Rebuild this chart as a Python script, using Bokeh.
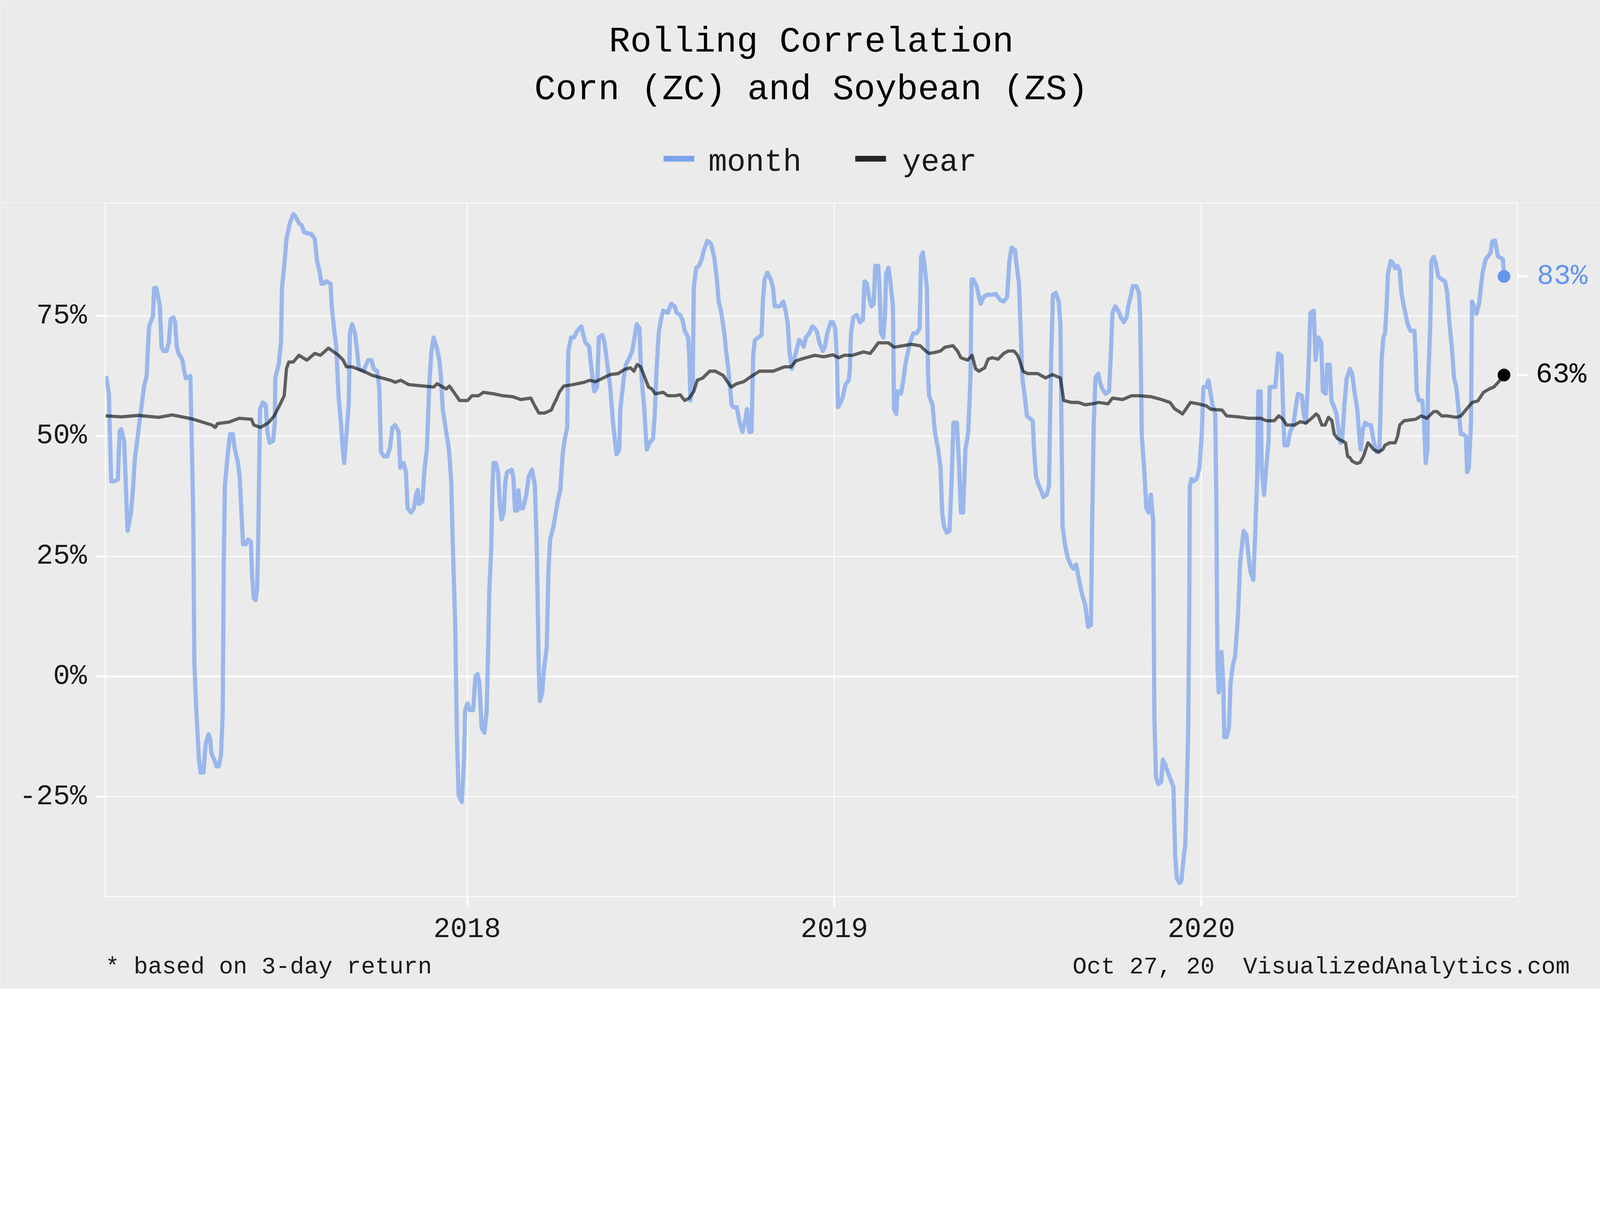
import numpy as np
import pandas as pd
from bokeh.plotting import figure
from bokeh.layouts import column
from bokeh.models import (Range1d, FixedTicker, NumeralTickFormatter, DatetimeTickFormatter,
                          LinearAxis, Span)
from bokeh.core.properties import value
from bokeh.embed import file_html
from bokeh.resources import INLINE

# ---------------- data ----------------
EPOCH = "2017-01-01"   # day offsets below are days since this date

month_day = [5.9, 8.7, 11.0, 14.3, 17.7, 19.4, 21.1, 23.9, 27.3, 30.7, 32.9, 34.6, 38.0, 41.4, 43.6, 46.4,
             47.6, 48.7, 52.6, 53.7, 56.0, 58.2, 59.4, 61.1, 62.8, 66.1, 68.4, 70.1, 72.9, 74.6, 76.3, 78.0,
             81.9, 83.6, 85.3, 89.8, 92.6, 93.7, 95.4, 98.2, 99.9, 102.7, 105.0, 107.8, 109.5, 110.6, 113.4,
             115.7, 117.9, 120.2, 121.9, 123.0, 124.1, 126.9, 129.2, 132.0, 133.7, 137.1, 138.8, 141.0, 142.1,
             145.0, 147.2, 150.0, 151.1, 152.8, 154.5, 156.2, 157.3, 159.0, 161.8, 164.7, 166.3, 168.6, 172.0,
             173.7, 174.2, 177.6, 179.9, 180.8, 183.1, 185.3, 188.7, 192.1, 194.3, 197.7, 200.5, 202.8, 210.1,
             213.5, 215.7, 218.0, 220.2, 222.5, 224.7, 229.2, 230.3, 232.6, 234.8, 237.1, 239.4, 241.0, 242.7,
             244.4, 247.2, 248.4, 250.6, 253.4, 255.1, 257.4, 261.9, 266.4, 269.8, 272.0, 275.4, 277.6, 279.3,
             282.1, 285.5, 288.3, 290.6, 293.4, 296.8, 298.5, 301.8, 304.1, 305.8, 309.2, 312.0, 314.2, 315.9,
             317.0, 320.4, 322.7, 324.9, 327.2, 329.4, 331.7, 334.5, 337.3, 339.0, 340.7, 344.1, 346.9, 349.1,
             350.8, 353.1, 354.8, 356.5, 359.7, 361.9, 363.0, 365.3, 367.5, 370.9, 373.2, 375.4, 377.1, 379.4,
             382.2, 384.4, 386.1, 386.9, 388.9, 390.1, 391.2, 393.4, 395.7, 397.4, 399.1, 401.3, 403.0, 404.7,
             409.2, 410.9, 412.6, 414.8, 416.0, 417.6, 420.5, 423.8, 426.1, 429.5, 432.3, 434.0, 435.1, 436.2,
             437.3, 439.6, 441.3, 444.1, 445.8, 447.5, 450.9, 453.1, 455.4, 457.6, 459.9, 462.1, 464.4, 465.5,
             468.3, 471.1, 474.5, 478.4, 480.1, 482.4, 486.3, 488.0, 491.4, 494.2, 495.9, 499.3, 501.5, 503.8,
             507.2, 510.0, 513.4, 516.2, 517.3, 520.7, 522.9, 526.3, 529.1, 531.4, 533.6, 536.3, 537.4, 539.1,
             540.8, 542.4, 543.6, 546.4, 549.8, 551.5, 553.1, 555.4, 557.6, 559.9, 564.4, 567.8, 571.2, 573.4,
             576.8, 579.0, 581.3, 584.7, 585.8, 586.9, 589.2, 590.3, 592.6, 595.4, 598.2, 600.4, 603.8, 607.2,
             610.6, 612.8, 615.1, 617.3, 620.7, 622.4, 624.6, 626.3, 628.0, 629.7, 633.1, 635.9, 638.7, 641.0,
             643.2, 645.5, 647.7, 649.4, 651.1, 654.5, 657.7, 659.0, 660.7, 663.5, 666.9, 669.1, 670.8, 675.9,
             679.3, 681.5, 683.8, 685.4, 687.7, 689.9, 691.6, 695.0, 697.3, 699.5, 701.8, 705.2, 708.0, 710.6,
             712.9, 715.1, 718.5, 720.7, 723.0, 726.4, 728.6, 730.9, 732.6, 733.7, 736.5, 738.8, 741.0, 744.4,
             745.5, 746.6, 748.9, 752.3, 755.6, 758.5, 760.1, 762.4, 764.6, 766.9, 769.2, 770.8, 773.7, 774.8,
             776.5, 778.7, 780.4, 781.5, 783.8, 785.5, 788.3, 789.4, 791.7, 792.8, 796.2, 798.4, 800.7, 802.9,
             805.2, 808.6, 812.0, 814.8, 816.4, 818.1, 819.8, 822.1, 823.2, 824.3, 827.7, 830.0, 833.3, 835.6,
             837.3, 839.0, 841.8, 844.6, 846.8, 848.5, 851.9, 854.2, 855.9, 858.1, 860.4, 863.2, 865.4, 866.6,
             868.2, 871.6, 873.9, 875.6, 878.4, 881.8, 887.2, 890.6, 892.8, 895.6, 898.5, 901.8, 904.1, 906.3,
             909.7, 911.4, 913.7, 915.4, 917.0, 919.9, 921.5, 924.4, 927.2, 928.9, 930.6, 933.4, 935.6, 937.9,
             941.2, 943.5, 944.6, 945.8, 947.4, 950.3, 953.1, 954.8, 955.9, 957.0, 959.3, 962.1, 964.9, 967.7,
             970.5, 973.3, 976.7, 979.5, 982.3, 985.2, 986.3, 988.0, 989.7, 992.5, 994.2, 996.4, 999.8, 1003.2,
             1004.9, 1006.6, 1009.4, 1012.2, 1015.0, 1017.8, 1020.6, 1022.3, 1025.1, 1026.8, 1030.2, 1033.0,
             1034.1, 1035.8, 1038.1, 1040.3, 1042.6, 1044.8, 1047.1, 1047.6, 1048.2, 1049.9, 1052.2, 1055.0,
             1056.7, 1058.9, 1061.7, 1065.5, 1067.2, 1068.9, 1070.6, 1073.4, 1075.1, 1077.3, 1079.0, 1080.7,
             1081.8, 1083.0, 1083.5, 1085.2, 1087.4, 1090.3, 1093.1, 1095.3, 1097.0, 1099.8, 1102.1, 1103.8,
             1106.0, 1108.8, 1110.0, 1110.5, 1111.1, 1112.2, 1115.0, 1116.7, 1117.8, 1120.1, 1122.4, 1124.0,
             1126.3, 1128.5, 1131.4, 1133.6, 1137.0, 1139.8, 1141.5, 1143.7, 1146.6, 1148.3, 1150.5, 1151.6,
             1153.9, 1155.0, 1157.3, 1159.5, 1161.8, 1162.9, 1165.1, 1168.5, 1171.3, 1174.7, 1176.4, 1177.5,
             1180.9, 1183.2, 1186.5, 1188.8, 1191.0, 1195.0, 1196.7, 1198.9, 1201.2, 1203.4, 1206.8, 1208.5,
             1211.3, 1214.1, 1215.8, 1218.6, 1220.3, 1222.6, 1224.3, 1227.1, 1229.3, 1231.6, 1233.3, 1235.0,
             1237.2, 1239.5, 1242.7, 1244.9, 1247.2, 1250.0, 1251.7, 1253.3, 1255.6, 1257.9, 1260.7, 1263.5,
             1266.3, 1269.1, 1271.9, 1273.1, 1274.2, 1275.9, 1277.6, 1279.2, 1280.4, 1283.2, 1285.4, 1287.7,
             1290.0, 1292.2, 1293.9, 1296.7, 1300.1, 1302.9, 1306.8, 1308.0, 1309.1, 1311.3, 1314.7, 1316.4,
             1318.1, 1319.8, 1320.3, 1322.6, 1323.7, 1326.0, 1328.2, 1330.5, 1333.9, 1337.2, 1339.5, 1341.7,
             1344.0, 1346.2, 1348.5, 1350.7, 1353.0, 1355.3, 1358.1, 1359.2, 1360.9, 1363.1, 1364.1, 1368.5,
             1371.3, 1373.0, 1374.7, 1377.5, 1382.5, 1384.2, 1387.0, 1389.8, 1394.8, 1395.9]

month_pct = [62.5, 59, 40.6, 40.6, 41, 51, 51.4, 49, 30.3, 34, 39.7, 45.3, 51, 56.5, 60.2, 62.6,
             68.6, 72.8, 75, 80.8, 80.8, 78.4, 77, 68.6, 67.7, 67.7, 69.5, 74.3, 74.7, 73.7, 68.6, 67.2,
             65.8, 63.5, 62, 62.5, 34, 3, -6, -17, -20, -20, -14, -12, -13, -15.9, -17.3,
             -18.7, -18.7, -16.3, -8, 24.7, 39.7, 46.2, 50.4, 50.4, 47.6, 44.4, 41.5, 32.2, 27.5,
             27.5, 28.5, 28, 21, 16.3, 15.9, 18.2, 29.4, 55.6, 57, 56.5, 50.9, 48.6, 49,
             52.8, 62.1, 64.9, 69.6, 80.8, 85.4, 91, 94.3, 96.2, 95.7, 94.3, 93.8, 92.4, 92,
             91, 86.4, 84.5, 81.7, 81.7, 82.2, 81.7, 77, 72.4, 68.6, 58.4, 52.8, 48.1, 44.4,
             49, 56.5, 71.4, 73.3, 71.4, 68.6, 64, 63.5, 65.8, 65.8, 64, 63.5, 60.2, 46.7,
             45.8, 45.8, 47.6, 51.8, 52.3, 50.9, 43.4, 44.4, 42.5, 35, 34.1, 35, 37.8, 38.8,
             35.9, 36.4, 43.4, 47.2, 60.2, 67.7, 70.5, 68.6, 65.8, 62.1, 55.6, 50.9, 47.2, 40.6,
             26.6, 10.7, -12.6, -24.7, -26.1, -17.3, -7, -5.6, -7, -7, 0, 0.5, -1.4, -10.7,
             -11.7, -7, 7.9, 17.3, 26.6, 39.7, 44.4, 44.4, 42.5, 35.9, 32.7, 34.1, 40.6, 42.5,
             43, 41.5, 34.5, 34.5, 38.7, 35, 35, 37.8, 41.5, 43, 39.7, 28.5, 15.4, 1.4,
             -5.1, -3.3, 1.4, 6.1, 21.9, 28.5, 31.3, 34.1, 36.9, 38.7, 46.2, 49.5, 51.8, 67.7,
             70.5, 70.5, 71.9, 72.8, 71.4, 69.5, 68.6, 64.9, 59.3, 60.2, 70.5, 71, 69.5, 65.8,
             60.2, 52.8, 46.2, 47.2, 55.6, 62.1, 64.9, 66.3, 67.7, 70.5, 73.3, 72.4, 65.8, 60.2,
             56.5, 50.9, 47.2, 48.6, 49.5, 54.6, 63, 71.4, 74.2, 76.1, 75.6, 77.5, 77, 75.6,
             75.2, 74.2, 71.9, 70.5, 66.8, 57.4, 60.2, 80.8, 85, 85.4, 86.8, 88.7, 90.6, 90.1,
             87.3, 83.6, 78, 76.1, 71.4, 67.7, 64, 60.2, 56.5, 56, 56, 52.8, 50.9, 52.8,
             55.6, 50.9, 50.9, 66.8, 70, 70.5, 71, 78, 82.6, 84, 82.6, 80.8, 77, 77,
             78, 76.1, 73.3, 67.7, 64, 65.8, 67.2, 70, 69.5, 68.6, 70.5, 71.4, 72.8, 72.4,
             71.6, 69.5, 67.7, 68.6, 71.4, 73.7, 73.7, 72.4, 65.8, 56, 57, 58.4, 60.7, 61.6,
             64, 71.4, 74.7, 75.2, 73.7, 74.2, 82.2, 81.7, 78.9, 77, 77.5, 85.4, 85.4, 81.7,
             71.4, 70.5, 75.2, 83.6, 85, 82.6, 77, 55.6, 54.6, 59.3, 58.8, 61.2, 64.9, 67.2,
             69.5, 71.4, 71.4, 72.4, 87.3, 88.2, 85.4, 80.8, 63, 58.4, 56.5, 50.9, 47.2, 43.4,
             34.1, 31.3, 29.9, 30.3, 41.5, 52.8, 52.8, 43.4, 34.1, 34.1, 47.2, 50.9, 62.1, 82.6,
             82.6, 81.2, 78.9, 77.5, 78.9, 79.4, 79.4, 79.6, 78.9, 78.2, 78, 78.9, 86.4, 89.2,
             88.7, 85.4, 81.7, 71.4, 62.1, 57.4, 54.2, 53.7, 53.2, 46.2, 41.5, 39.7, 38.7, 37.3,
             37.8, 39.7, 54.6, 67.7, 79.4, 79.8, 78, 73.3, 52.8, 31.3, 27.5, 24.7, 23.3, 22.4,
             23.3, 20.1, 16.8, 14.9, 10.3, 10.7, 30.3, 52.8, 62.1, 63, 61.2, 59.8, 58.8, 59.3,
             66.8, 75.6, 77, 76.1, 74.7, 73.7, 74.7, 77, 79.4, 81.2, 81.2, 79.8,
             75.2, 49.9, 43.4, 35, 34.1, 37.8, 32.2, 15.4, -7.9, -21, -22.4, -21.9,
             -17.3, -18.2, -20, -22, -23, -37, -42, -43, -42.5, -37.8, -35, -21.9,
             -12.6, 15.4, 39.7, 41.1, 40.6, 41.1, 43.4, 50, 60.2, 60.2, 61.6, 59.3,
             56.5, 54.6, 34.1, 15.4, 1.4, -3.3, 5.1, -1.4, -12.6, -12.6, -10.7, -1.4,
             2.3, 4.2, 12.6, 23.8, 30.3, 29.4, 25.7, 21.9, 20.1, 28.5, 41.5, 59.3,
             59.3, 43.4, 37.8, 43.4, 49, 60.2, 60.2, 60.2, 67.2, 66.7, 54.6, 48.1,
             48.1, 50.9, 52.3, 56, 58.8, 58.4, 54.6, 52.8, 62.1, 75.6, 76.1, 65.8,
             70.5, 69.5, 59.3, 58.8, 64.9, 64.9, 57.4, 56, 54.6, 50.9, 48.6, 49,
             56.5, 62, 64, 63, 59.3, 55.6, 50.9, 47.2, 51.4, 52.8, 52.3, 52.3,
             49, 46.7, 46.7, 55.6, 65.8, 70.5, 71.4, 77, 83.6, 86.4, 86, 84.9,
             85.4, 84.5, 79.8, 76.6, 73.3, 71.9, 71.9, 66.8, 59.3, 57.4, 57.4, 52.8,
             44.4, 47.2, 60.2, 73.3, 86.4, 87.3, 85.9, 83.2, 82.6, 82.2, 79.8, 73.3,
             68.6, 62.1, 60.2, 55.6, 50.4, 50.4, 49.9, 42.5, 43.4, 52.8, 78.0, 75.4,
             77.8, 81.1, 84.1, 86.7, 88.1, 90.5, 90.7, 87.4, 86.8, 83.2]

year_day = [5.5, 21.1, 38.0, 58.2, 71.8, 88.7, 94.3, 111.2, 114.5, 116.8, 128.1, 138.2, 150.6, 152.8,
            159.6, 167.5, 173.1, 176.5, 179.9, 183.1, 185.3, 187.6, 192.1, 197.7, 205.6, 213.5, 219.1,
            227.0, 237.1, 241.6, 245.0, 250.6, 261.9, 270.9, 288.9, 293.4, 299.0, 306.9, 321.6, 331.7,
            335.1, 344.1, 347.4, 354.2, 357.4, 365.3, 369.8, 376.5, 381.0, 391.2, 400.2, 410.3, 418.2,
            428.3, 431.7, 436.2, 441.9, 448.6, 450.9, 454.2, 456.5, 461.0, 470.0, 481.3, 486.9, 492.5,
            500.4, 507.2, 515.0, 521.8, 527.4, 530.8, 534.0, 537.4, 540.8, 545.3, 548.6, 552.0, 559.9,
            564.4, 572.3, 576.8, 581.3, 585.8, 590.3, 593.7, 599.3, 606.1, 611.7, 619.6, 624.1, 627.5,
            633.1, 639.8, 646.6, 655.6, 669.1, 680.4, 687.1, 691.6, 698.4, 710.6, 719.6, 728.6, 734.2,
            739.9, 747.8, 759.0, 765.8, 769.2, 773.7, 783.8, 789.4, 798.4, 806.3, 815.3, 821.0, 824.3,
            830.0, 835.6, 840.1, 848.0, 852.5, 855.9, 862.6, 867.1, 870.5, 873.9, 879.5, 882.9, 887.2,
            892.8, 898.5, 903.0, 908.6, 912.0, 914.2, 917.6, 922.1, 932.2, 940.1, 946.9, 954.8, 958.1,
            966.0, 972.8, 979.5, 986.3, 993.0, 1002.1, 1006.6, 1016.7, 1025.7, 1033.6, 1044.8, 1053.8,
            1063.8, 1068.3, 1072.8, 1076.2, 1079.6, 1084.1, 1092.0, 1099.8, 1104.3, 1115.6, 1120.1,
            1131.4, 1142.6, 1153.9, 1159.5, 1167.4, 1171.9, 1175.3, 1179.8, 1187.7, 1193.3, 1198.9,
            1204.6, 1209.1, 1211.3, 1214.7, 1218.1, 1221.4, 1224.8, 1227.1, 1230.4, 1235.0, 1238.3,
            1240.4, 1242.7, 1244.9, 1249.4, 1252.8, 1256.2, 1258.4, 1260.7, 1262.9, 1266.3, 1270.8,
            1275.3, 1277.6, 1282.1, 1287.7, 1290.0, 1292.2, 1296.7, 1308.0, 1313.6, 1319.2, 1326.0,
            1329.4, 1333.9, 1339.5, 1348.5, 1353.0, 1358.6, 1364.3, 1369.9, 1375.5, 1381.2, 1385.7,
            1390.2, 1395.9]

year_pct = [54.2, 54.0, 54.3, 53.9, 54.4, 53.7, 53.4, 52.3, 51.8, 52.6, 52.9, 53.7, 53.5, 52.3,
            51.8, 52.8, 54.2, 55.6, 57, 58.4, 64, 65.4, 65.4, 66.8, 65.8, 67.2, 66.8,
            68.3, 66.8, 65.8, 64.4, 64.4, 63.5, 62.6, 61.6, 61.2, 61.6, 60.7, 60.4, 60.2,
            60.9, 59.8, 60.4, 58.4, 57.4, 57.4, 58.4, 58.4, 59.1, 58.8, 58.4, 58.2, 57.6,
            57.9, 56.5, 54.8, 54.8, 55.4, 56.5, 57.9, 59.1, 60.4, 60.7, 61.2, 61.6, 61.3,
            62.1, 62.8, 63, 63.9, 64.2, 63.5, 64.9, 64.4, 62.6, 60.2, 59.8, 58.8, 59.1,
            58.4, 58.4, 58.6, 57.4, 57.9, 59.3, 61.6, 62.1, 63.5, 63.5, 62.6, 61.2, 60.2,
            60.9, 61.3, 62.3, 63.5, 63.5, 64.4, 64.4, 65.6, 66.1, 66.8, 66.5, 66.9, 66.3,
            66.8, 66.8, 67.5, 67.2, 68.1, 69.4, 69.4, 68.5, 68.8, 69.1, 68.8, 67.7, 67.2,
            67.4, 67.7, 68.5, 68.8, 67.7, 66.3, 65.8, 66.8, 64, 63.5, 64.2, 66, 66.3,
            66, 67.2, 67.7, 67.7, 66.9, 65.8, 63.5, 63, 63, 62.1, 62.8, 62.1, 57.4,
            57, 57, 56.5, 56.7, 57, 56.7, 57.9, 57.6, 58.4, 58.4, 58.2, 57.7,
            57, 55.7, 55.1, 54.6, 55.6, 57, 56.7, 56.3, 55.6, 55.4, 54.2,
            54, 53.7, 53.7, 53.2, 53.2, 54.2, 53.7, 52.3, 52.3, 53, 52.7,
            53.7, 54.6, 54.2, 52.3, 52.3, 53.9, 53.2, 50.4, 49.5, 49, 48.6,
            45.8, 45.5, 44.8, 44.3, 44.5, 45.8, 47.2, 48.6, 48.1, 47.2, 46.7,
            47.2, 48.1, 48.6, 48.6, 49.9, 52.3, 53.2, 53.5, 54.2, 53.7, 55.1,
            55.1, 54.2, 54.2, 53.9, 54.2, 55.6, 57, 57.3, 59.1, 59.8, 60.2,
            61.2, 62.7]

x_start_day, x_end_day = 5.15, 1409.2
y_start, y_end = -0.458, 0.985
y_ticks = [-0.25, 0.0, 0.25, 0.50, 0.75]
x_tick_years = ["2018-01-01", "2019-01-01", "2020-01-01"]

title_1 = "Rolling Correlation"
title_2 = "Corn (ZC) and Soybean (ZS)"
note_left = "* based on 3-day return"
note_right = "Oct 27, 20\u00a0 VisualizedAnalytics.com"
series_names = ["month", "year"]

# ---------------- styling / layout ----------------
FONT = "Liberation Mono"
BG = "#EBEBEB"
BLUE = "#6495ED"
TXT = "#1A1A1A"
K = 4096 / 5000          # reference pixels -> css pixels


def cp(ref_px):          # reference-picture pixel -> css pixel
    return ref_px * K


def fs(ref_px):
    return f"{ref_px * K:.1f}px"


W, H = 4096, 2531
HT = round(cp(634))                 # header (titles + legend) height = frame top
HM = H - HT                         # main figure height
FL, FR = round(cp(328)), round(cp(4741))
FB = round(cp(2802)) - HT

epoch = pd.Timestamp(EPOCH)
month_x = epoch + pd.to_timedelta(month_day, unit="D")
year_x = epoch + pd.to_timedelta(year_day, unit="D")
month_v = np.array(month_pct) / 100.0
year_v = np.array(year_pct) / 100.0


def ms(ts):
    return pd.Timestamp(ts).value / 1e6


X0 = ms(epoch + pd.Timedelta(days=x_start_day))
X1 = ms(epoch + pd.Timedelta(days=x_end_day))


def px_x(px):
    return X0 + (px - FL) * (X1 - X0) / (FR - FL)


# ---------------- header: titles and legend (frame aligned with the main frame) ----------------
head = figure(width=W, height=HT, x_range=Range1d(FL, FR), y_range=Range1d(HT, 0),
              output_backend="svg", toolbar_location=None, x_axis_location=None, y_axis_location=None,
              min_border_left=FL, min_border_right=W - FR, min_border_top=0, min_border_bottom=0,
              background_fill_color=BG, border_fill_color=BG, outline_line_color=None)
head.grid.visible = False
cx = (FL + FR) / 2
TITLE_SHIFT = 22      # compensates the rendered baseline offset
head.text(x=[cx, cx], y=[cp(157) - TITLE_SHIFT, cp(306) - TITLE_SHIFT], text=[title_1, title_2],
          text_font=value(FONT), text_font_size=value(fs(111)), text_color="black",
          text_align="center", text_baseline="alphabetic")
key_x0 = [cp(2073), cp(2672)]
key_x1 = [cp(2169), cp(2768)]
key_y = [cp(495.5)] * 2
head.segment(x0=key_x0, y0=key_y, x1=key_x1, y1=key_y, line_color=["#7AA3EA", "#252525"],
             line_width=14.7)
head.text(x=[cp(2213), cp(2819)], y=[cp(523) - 13] * 2, text=series_names, text_font=value(FONT),
          text_font_size=value(fs(97)), text_color=TXT, text_align="left", text_baseline="alphabetic")

# ---------------- main plot ----------------
fig = figure(width=W, height=HM, x_axis_type="datetime", title=None,
             x_range=Range1d(X0, X1), y_range=Range1d(y_start, y_end),
             output_backend="svg", toolbar_location=None,
             min_border_left=FL, min_border_right=W - FR, min_border_top=0, min_border_bottom=HM - FB,
             background_fill_color=BG, border_fill_color=BG,
             outline_line_color="white", outline_line_width=2.5)

fig.xgrid.grid_line_color = "white"
fig.xgrid.grid_line_width = 2.5
fig.ygrid.grid_line_color = "white"
fig.ygrid.grid_line_width = 2.5
fig.add_layout(Span(location=0, dimension="width", line_color="white", line_width=5, level="underlay"))

xt = FixedTicker(ticks=[ms(d) for d in x_tick_years])
fig.xaxis.ticker = xt
fig.xgrid.ticker = xt
fmt = "%Y"
fig.xaxis.formatter = DatetimeTickFormatter(years=fmt, months=fmt, days=fmt, hours=fmt, hourmin=fmt,
                                            minutes=fmt, minsec=fmt, seconds=fmt, milliseconds=fmt,
                                            microseconds=fmt)
yt = FixedTicker(ticks=y_ticks)
fig.yaxis.ticker = yt
fig.ygrid.ticker = yt
fig.yaxis.formatter = NumeralTickFormatter(format="0%")


def style_axis(ax, size, color, tick=True):
    ax.axis_line_color = None
    ax.major_tick_line_color = "white" if tick else None
    ax.major_tick_line_width = 5
    ax.major_tick_out = 25 if tick else 0
    ax.major_tick_in = 0
    ax.minor_tick_line_color = None
    ax.major_label_text_font = FONT
    ax.major_label_text_font_size = size
    ax.major_label_text_color = color


style_axis(fig.xaxis[0], fs(88), TXT)
style_axis(fig.yaxis[0], fs(88), TXT)
fig.xaxis.major_label_standoff = 30
fig.yaxis.major_label_standoff = 22

fig.line(month_x, month_v, line_color=BLUE, line_alpha=0.6, line_width=10.8, line_join="round")
fig.line(year_x, year_v, line_color="black", line_alpha=0.6, line_width=8.3, line_join="round")
fig.scatter([month_x[-1]], [month_v[-1]], size=32, color=BLUE)
fig.scatter([year_x[-1]], [year_v[-1]], size=32, color="black")

# right axes: ticks at the end values, black 63% label, blue 83% label
m_end, y_last = float(month_v[-1]), float(year_v[-1])
ra = LinearAxis(ticker=FixedTicker(ticks=[y_last, m_end]), formatter=NumeralTickFormatter(format="0%"))
style_axis(ra, fs(88), "black")
ra.major_label_standoff = 22
ra.major_label_overrides = {m_end: ""}
fig.add_layout(ra, "right")
label_w = 3 * 0.6 * 88 * K
rb = LinearAxis(ticker=FixedTicker(ticks=[m_end]), formatter=NumeralTickFormatter(format="0%"))
style_axis(rb, fs(88), BLUE, tick=False)
rb.major_label_standoff = -round(label_w)
fig.add_layout(rb, "right")

# bottom notes as labels of an extra axis
char_w = 0.6 * 74 * K
left_c = float(round(px_x(FL + len(note_left) * char_w / 2)))
right_c = float(round(px_x(cp(4905) - len(note_right) * char_w / 2)))
na = LinearAxis(ticker=FixedTicker(ticks=[left_c, right_c]))
style_axis(na, fs(74), TXT, tick=False)
na.major_label_overrides = {left_c: note_left, right_c: note_right}
na.major_label_standoff = 40
fig.add_layout(na, "below")

p = column(head, fig, spacing=0)
open("out.html", "w").write(file_html(p, INLINE))
